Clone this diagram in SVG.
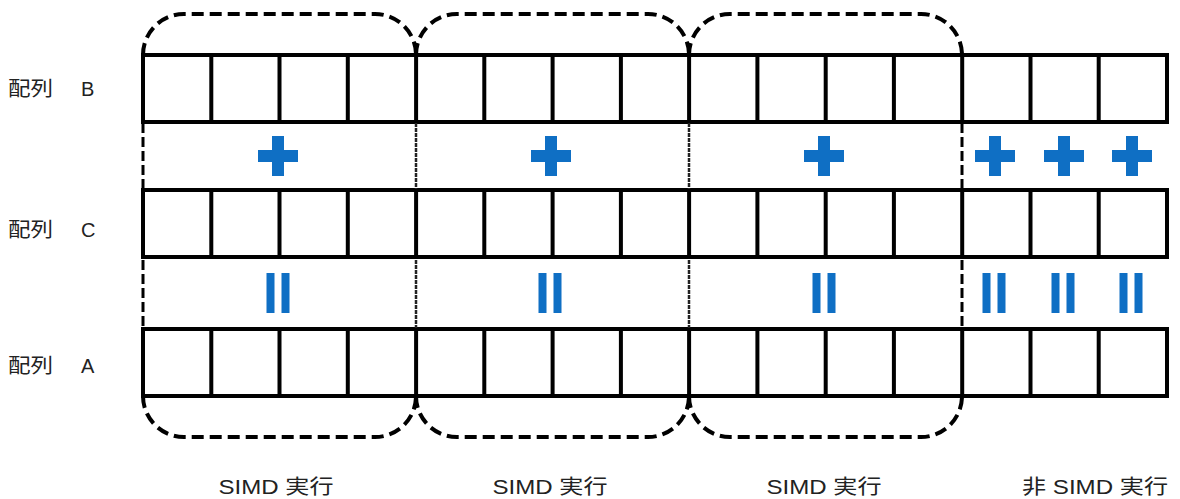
<svg xmlns="http://www.w3.org/2000/svg" width="1180" height="499" viewBox="0 0 1180 499">
  <defs>
    <style>
      .row { fill: #fff; stroke: #000; stroke-width: 4; }
      .cell { stroke: #000; stroke-width: 4; }
      .outline { fill: none; stroke: #000; stroke-width: 4; stroke-dasharray: 12 6; }
      .sep { fill: none; stroke: #000; stroke-width: 3; stroke-dasharray: 10 4; }
      .sep-thin { fill: none; stroke: #222; stroke-width: 2.5; stroke-dasharray: 4 1; }
      .op { fill: #0F6FC4; }
      .lbl { font-family: "Liberation Sans", "Noto Sans CJK JP", sans-serif; fill: #222; }
      .cjk { font-family: "Noto Sans CJK JP", sans-serif; fill: #222; }
    </style>
    <!-- operator glyphs drawn as shapes, centred on 0,0 -->
    <g id="plus">
      <rect x="-20" y="-6" width="40" height="12" class="op"/>
      <rect x="-6" y="-20" width="12" height="40" class="op"/>
    </g>
    <g id="eq">
      <rect x="-11.5" y="-20" width="8" height="40" class="op"/>
      <rect x="3.5" y="-20" width="8" height="40" class="op"/>
    </g>
    <!-- 15-cell array row, cell width 1024/15 -->
    <g id="cells">
      <rect x="143" y="0" width="1024" height="67" class="row"/>
      <path class="cell" d="M211.3,0V67M279.5,0V67M347.8,0V67M416.1,0V67M484.3,0V67M552.6,0V67M620.9,0V67M689.1,0V67M757.4,0V67M825.7,0V67M893.9,0V67M962.2,0V67M1030.5,0V67M1098.7,0V67"/>
    </g>
  </defs>

  <rect width="1180" height="499" fill="#fff"/>

  <!-- array rows -->
  <g id="row-b">
    <use href="#cells" y="55"/>
    <text class="cjk" x="8" y="96" font-size="20" textLength="45" lengthAdjust="spacingAndGlyphs">配列</text>
    <text class="lbl" x="81" y="96" font-size="20">B</text>
  </g>
  <g id="row-c">
    <use href="#cells" y="190"/>
    <text class="cjk" x="8" y="237" font-size="20" textLength="45" lengthAdjust="spacingAndGlyphs">配列</text>
    <text class="lbl" x="81" y="237" font-size="20">C</text>
  </g>
  <g id="row-a">
    <use href="#cells" y="329"/>
    <text class="cjk" x="8" y="373" font-size="20" textLength="45" lengthAdjust="spacingAndGlyphs">配列</text>
    <text class="lbl" x="81" y="373" font-size="20">A</text>
  </g>

  <!-- SIMD blocks: dashed outlines and separators -->
  <g id="connectors">
    <path class="outline" d="M143,55 A41,41 0 0 1 184,14 L375,14 A41,41 0 0 1 416,55"/>
    <path class="outline" d="M416,55 A41,41 0 0 1 457,14 L648,14 A41,41 0 0 1 689,55"/>
    <path class="outline" d="M689,55 A41,41 0 0 1 730,14 L921,14 A41,41 0 0 1 962,55"/>
    <path class="outline" d="M143,396 A41,41 0 0 0 184,437 L375,437 A41,41 0 0 0 416,396"/>
    <path class="outline" d="M416,396 A41,41 0 0 0 457,437 L648,437 A41,41 0 0 0 689,396"/>
    <path class="outline" d="M689,396 A41,41 0 0 0 730,437 L921,437 A41,41 0 0 0 962,396"/>
    <path class="sep" d="M143,123V189M143,260V328"/>
    <path class="sep-thin" d="M416,123V189M416,260V328M689,123V189M689,260V328"/>
    <path class="sep" d="M962,123V189M962,260V328"/>
  </g>

  <g id="simd-1">
    <use href="#plus" x="278" y="156"/>
    <use href="#eq" x="278" y="293"/>
    <text class="lbl" x="276" y="494" font-size="20" text-anchor="middle" textLength="115" lengthAdjust="spacingAndGlyphs">SIMD 実行</text>
  </g>
  <g id="simd-2">
    <use href="#plus" x="551" y="156"/>
    <use href="#eq" x="550" y="293"/>
    <text class="lbl" x="550" y="494" font-size="20" text-anchor="middle" textLength="115" lengthAdjust="spacingAndGlyphs">SIMD 実行</text>
  </g>
  <g id="simd-3">
    <use href="#plus" x="824" y="156"/>
    <use href="#eq" x="824" y="293"/>
    <text class="lbl" x="824" y="494" font-size="20" text-anchor="middle" textLength="115" lengthAdjust="spacingAndGlyphs">SIMD 実行</text>
  </g>
  <g id="non-simd">
    <use href="#plus" x="995" y="156"/>
    <use href="#plus" x="1064" y="156"/>
    <use href="#plus" x="1132" y="156"/>
    <use href="#eq" x="994" y="293"/>
    <use href="#eq" x="1063" y="293"/>
    <use href="#eq" x="1131" y="293"/>
    <text class="lbl" x="1095" y="494" font-size="20" text-anchor="middle" textLength="146" lengthAdjust="spacingAndGlyphs">非 SIMD 実行</text>
  </g>
</svg>
